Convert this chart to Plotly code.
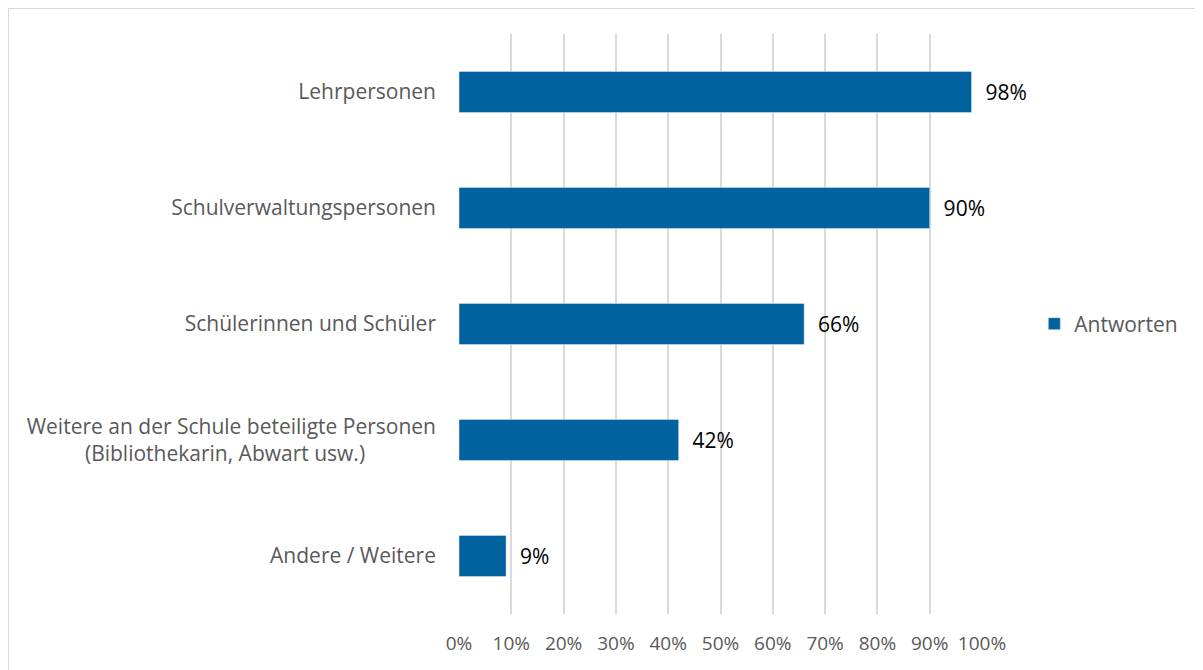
import plotly.graph_objects as go

categories = [
    'Lehrpersonen',
    'Schulverwaltungspersonen',
    'Schülerinnen und Schüler',
    'Weitere an der Schule beteiligte Personen<br>(Bibliothekarin, Abwart usw.)' + '\u00a0' * 13,
    'Andere / Weitere',
]
values = [98, 90, 66, 42, 9]
tick_vals = [0, 10, 20, 30, 40, 50, 60, 70, 80, 90, 100]
tick_text = [f'{v}%' for v in tick_vals]

# plot area in figure pixels (page has an 8px body margin)
L, T, W, H = 451, 26, 523, 580
FIG_W, FIG_H = 1195, 662

fig = go.Figure(go.Bar(
    name='Antworten',
    y=categories,
    x=values,
    orientation='h',
    marker_color='#0063a0',
    text=[f'\u00a0\u00a0{v}%' for v in values],
    textposition='outside',
    textfont=dict(size=21, color='#000000'),
    cliponaxis=False,
))

fig.update_layout(
    width=FIG_W,
    height=FIG_H,
    plot_bgcolor='white',
    paper_bgcolor='white',
    font=dict(family='Open Sans', size=19, color='#595959'),
    bargap=0.645,
    showlegend=True,
    legend=dict(x=1.1, xanchor='left', y=0.5, yanchor='middle',
                font=dict(size=21, color='#595959'), itemwidth=30),
    margin=dict(l=L, r=FIG_W - L - W, t=T, b=FIG_H - T - H),
    xaxis=dict(range=[0, 100], tickvals=tick_vals, ticktext=tick_text,
               showgrid=True, gridcolor='#d9d9d9', gridwidth=1.5,
               zeroline=False, showline=False, ticks='', ticklabelstandoff=16,
               tickfont=dict(size=19, color='#595959')),
    yaxis=dict(autorange='reversed', showgrid=False, zeroline=False,
               ticks='', ticklabelstandoff=22,
               tickfont=dict(size=21, color='#595959')),
    shapes=[dict(type='rect', xref='paper', yref='paper',
                 x0=(0 - L) / W, x1=(FIG_W - 2 - L) / W,
                 y0=-(FIG_H + 5 - T - H) / H, y1=1 + (T - 0) / H,
                 line=dict(color='#d9d9d9', width=2))],
)

fig.write_html('out.html')
